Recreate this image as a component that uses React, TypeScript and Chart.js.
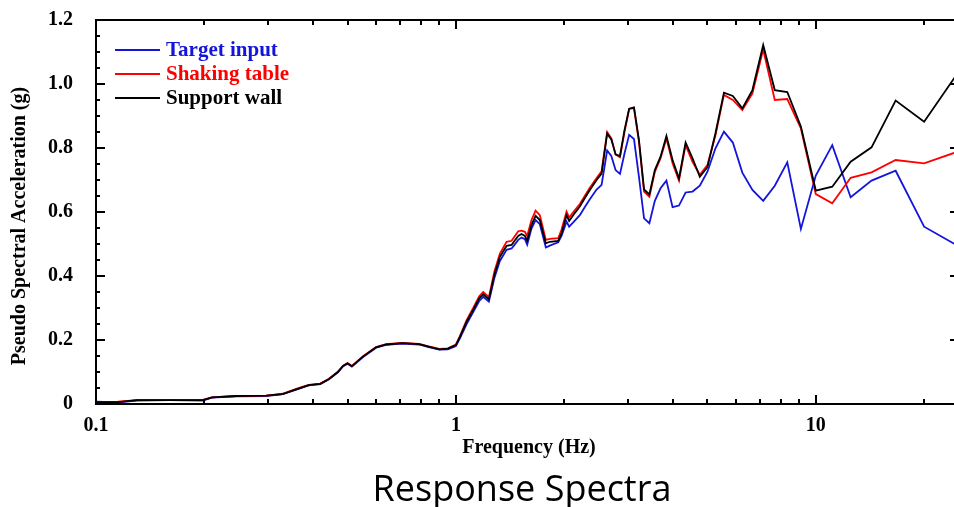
import React, { useEffect, useRef } from 'react';
import { Chart, registerables } from 'chart.js';

Chart.register(...registerables);

// ---------- data ----------
const frequency = [
  0.1, 0.115, 0.13, 0.16, 0.198, 0.21, 0.245, 0.297, 0.33, 0.36, 0.39, 0.42, 0.444, 0.47, 0.486, 0.5, 0.514, 0.552, 0.6, 0.64, 0.71, 0.79, 0.84, 0.9, 0.95, 1.0,
  1.026, 1.071, 1.117, 1.161, 1.191, 1.235, 1.28, 1.325, 1.383, 1.428, 1.449, 1.49, 1.522, 1.555, 1.578, 1.622, 1.665, 1.711, 1.778, 1.824, 1.924, 1.966, 2.03, 2.064, 2.128, 2.21, 2.28, 2.356, 2.46, 2.54,
  2.632, 2.703, 2.778, 2.857, 2.941, 3.03, 3.125, 3.226, 3.333, 3.448, 3.571, 3.704, 3.846, 4.0, 4.167, 4.348, 4.545, 4.762, 5.0, 5.263,
  5.556, 5.882, 6.25, 6.667, 7.143, 7.692, 8.333, 9.091, 10, 11.111, 12.5, 14.286, 16.667, 20, 25,
];

const targetInput = [
  0.007, 0.005, 0.011, 0.012, 0.011, 0.02, 0.024, 0.025, 0.031, 0.045, 0.058, 0.062, 0.077, 0.099, 0.118, 0.126, 0.117, 0.147, 0.176, 0.185, 0.189, 0.186, 0.178, 0.17, 0.171, 0.181,
  0.205, 0.25, 0.287, 0.322, 0.335, 0.32, 0.395, 0.447, 0.482, 0.486, 0.495, 0.513, 0.52, 0.515, 0.498, 0.548, 0.575, 0.562, 0.489, 0.495, 0.505, 0.525, 0.57, 0.554, 0.57, 0.59, 0.615, 0.64, 0.67, 0.685,
  0.792, 0.775, 0.731, 0.719, 0.783, 0.841, 0.828, 0.71, 0.58, 0.565, 0.635, 0.674, 0.698, 0.615, 0.62, 0.661, 0.664, 0.682, 0.726, 0.799,
  0.851, 0.817, 0.723, 0.669, 0.635, 0.682, 0.755, 0.547, 0.714, 0.809, 0.646, 0.698, 0.729, 0.554, 0.492,
];

const shakingTable = [
  0.005, 0.007, 0.012, 0.012, 0.013, 0.021, 0.025, 0.026, 0.032, 0.047, 0.06, 0.064, 0.079, 0.101, 0.12, 0.128, 0.119, 0.149, 0.178, 0.187, 0.191, 0.188, 0.18, 0.172, 0.174, 0.186,
  0.212, 0.262, 0.3, 0.337, 0.35, 0.334, 0.415, 0.47, 0.507, 0.51, 0.52, 0.54, 0.542, 0.538, 0.525, 0.575, 0.604, 0.59, 0.513, 0.516, 0.518, 0.545, 0.601, 0.583, 0.602, 0.625, 0.65, 0.676, 0.706, 0.727,
  0.85, 0.83, 0.78, 0.771, 0.85, 0.922, 0.925, 0.82, 0.664, 0.648, 0.725, 0.768, 0.83, 0.752, 0.698, 0.809, 0.757, 0.716, 0.747, 0.84,
  0.966, 0.95, 0.919, 0.971, 1.108, 0.95, 0.953, 0.861, 0.656, 0.627, 0.707, 0.724, 0.7625, 0.752, 0.79,
];

const supportWall = [
  0.006, 0.006, 0.012, 0.012, 0.012, 0.021, 0.025, 0.026, 0.031, 0.046, 0.059, 0.063, 0.078, 0.1, 0.119, 0.127, 0.118, 0.148, 0.177, 0.186, 0.19, 0.187, 0.179, 0.171, 0.173, 0.184,
  0.21, 0.257, 0.294, 0.33, 0.343, 0.327, 0.405, 0.46, 0.494, 0.497, 0.507, 0.525, 0.531, 0.525, 0.51, 0.559, 0.588, 0.575, 0.502, 0.507, 0.51, 0.533, 0.59, 0.572, 0.593, 0.617, 0.643, 0.669, 0.7, 0.72,
  0.845, 0.827, 0.78, 0.775, 0.856, 0.923, 0.927, 0.825, 0.671, 0.655, 0.731, 0.773, 0.8375, 0.7625, 0.705, 0.817, 0.768, 0.71, 0.74, 0.846,
  0.973, 0.9625, 0.924, 0.981, 1.122, 0.981, 0.975, 0.867, 0.667, 0.679, 0.757, 0.802, 0.948, 0.882, 1.04,
];

const seriesNames = ['Target input', 'Shaking table', 'Support wall'];
const seriesColors = ['#1414dc', '#ff0000', '#000000'];

const xMajorTicks = [0.1, 1, 10];
const xTickLabels = ['0.1', '1', '10'];
const xMinorTicks = [0.2, 0.3, 0.4, 0.5, 0.6, 0.7, 0.8, 0.9, 2, 3, 4, 5, 6, 7, 8, 9, 20];
const xMin = 0.1;
const xMax = 25;

const yMajorTicks = [0, 0.2, 0.4, 0.6, 0.8, 1.0, 1.2];
const yTickLabels = ['0', '0.2', '0.4', '0.6', '0.8', '1.0', '1.2'];
const yMinorTicks = [0.05, 0.1, 0.15, 0.25, 0.3, 0.35, 0.45, 0.5, 0.55, 0.65, 0.7, 0.75, 0.85, 0.9, 0.95, 1.05, 1.1, 1.15];

const xTitle = 'Frequency (Hz)';
const yTitle = 'Pseudo Spectral Acceleration (g)';
const caption = 'Response Spectra';

const SERIF = '"Liberation Serif", "Times New Roman", serif';

const framePlugin = {
  id: 'frameDecor',
  afterDraw(chart: any) {
    const { ctx, chartArea, scales } = chart;
    const { left, right, top, bottom } = chartArea;
    const x = scales.x;
    const y = scales.y;
    ctx.save();
    ctx.strokeStyle = '#000';
    ctx.lineWidth = 2;
    ctx.lineCap = 'butt';
    ctx.strokeRect(left, top, right - left, bottom - top);

    const seg = (x1: number, y1: number, x2: number, y2: number) => {
      ctx.beginPath();
      ctx.moveTo(x1, y1);
      ctx.lineTo(x2, y2);
      ctx.stroke();
    };
    const xTick = (v: number, len: number) => {
      const px = Math.round(x.getPixelForValue(v));
      seg(px, bottom, px, bottom - len);
      seg(px, top, px, top + len);
    };
    const yTick = (v: number, len: number) => {
      const py = Math.round(y.getPixelForValue(v));
      seg(left, py, left + len, py);
      seg(right, py, right - len, py);
    };
    xMajorTicks.forEach((v) => xTick(v, 9));
    xMinorTicks.forEach((v) => xTick(v, 5));
    yMajorTicks.forEach((v) => yTick(v, 9));
    yMinorTicks.forEach((v) => yTick(v, 4));

    // legend
    ctx.font = `bold 21px ${SERIF}`;
    ctx.textBaseline = 'middle';
    ctx.textAlign = 'left';
    seriesNames.forEach((name, i) => {
      const ly = 50 + i * 24;
      ctx.strokeStyle = seriesColors[i];
      ctx.lineWidth = 2;
      seg(115, ly, 160, ly);
      ctx.fillStyle = seriesColors[i];
      ctx.fillText(name, 166, ly + 1);
    });

    // axis titles
    ctx.fillStyle = '#000';
    ctx.font = `bold 20px ${SERIF}`;
    ctx.textAlign = 'center';
    ctx.textBaseline = 'middle';
    ctx.fillText(xTitle, 529, 448);
    ctx.save();
    ctx.translate(20, 226);
    ctx.rotate(-Math.PI / 2);
    ctx.fillText(yTitle, 0, 0);
    ctx.restore();

    // caption
    ctx.font = '36px "Open Sans", "Noto Sans", sans-serif';
    ctx.textBaseline = 'alphabetic';
    ctx.fillText(caption, 522, 501);
    ctx.restore();
  },
};

function makeSeries(values: number[]) {
  return frequency.map((f, i) => ({ x: f, y: values[i] }));
}

export default function App() {
  const canvasRef = useRef<HTMLCanvasElement | null>(null);

  useEffect(() => {
    const canvas = canvasRef.current;
    if (!canvas) return;
    const seriesValues = [targetInput, shakingTable, supportWall];
    const chart = new Chart(canvas, {
      type: 'line',
      data: {
        datasets: seriesValues.map((vals, i) => ({
          label: seriesNames[i],
          data: makeSeries(vals),
          borderColor: seriesColors[i],
          backgroundColor: seriesColors[i],
          borderWidth: 1.8,
          pointRadius: 0,
          tension: 0,
          fill: false,
          order: 2 - i,
        })),
      },
      options: {
        responsive: false,
        animation: false,
        events: [],
        layout: { padding: { top: 20, right: 11, left: 0, bottom: 0 } },
        plugins: {
          legend: { display: false },
          tooltip: { enabled: false },
          title: { display: false },
        },
        scales: {
          x: {
            type: 'logarithmic',
            min: xMin,
            max: xMax,
            grid: { display: false, drawTicks: false },
            border: { display: false },
            afterBuildTicks: (scale: any) => {
              scale.ticks = xMajorTicks.map((value) => ({ value }));
            },
            afterFit: (scale: any) => {
              scale.height = 103;
              scale.paddingLeft = 0;
              scale.paddingRight = 0;
              scale.paddingTop = 0;
              scale.paddingBottom = 0;
            },
            ticks: {
              autoSkip: false,
              maxRotation: 0,
              padding: 10,
              color: '#000',
              font: { family: SERIF, size: 20, weight: 'bold' },
              callback: (value: any) => {
                const idx = xMajorTicks.findIndex((t) => Math.abs(t - Number(value)) < 1e-9);
                return idx >= 0 ? xTickLabels[idx] : '';
              },
            },
          },
          y: {
            type: 'linear',
            min: 0,
            max: 1.2,
            grid: { display: false, drawTicks: false },
            border: { display: false },
            afterBuildTicks: (scale: any) => {
              scale.ticks = yMajorTicks.map((value) => ({ value }));
            },
            afterFit: (scale: any) => {
              scale.width = 96;
              scale.paddingLeft = 0;
              scale.paddingRight = 0;
              scale.paddingTop = 0;
              scale.paddingBottom = 0;
            },
            ticks: {
              padding: 23,
              color: '#000',
              font: { family: SERIF, size: 20, weight: 'bold' },
              callback: (value: any) => {
                const idx = yMajorTicks.findIndex((t) => Math.abs(t - Number(value)) < 1e-9);
                return idx >= 0 ? yTickLabels[idx] : '';
              },
            },
          },
        },
      } as any,
      plugins: [framePlugin],
    });
    return () => chart.destroy();
  }, []);

  return (
    <div
      style={{
        position: 'fixed',
        left: 0,
        top: 0,
        width: 954,
        height: 507,
        overflow: 'hidden',
        background: '#fff',
      }}
    >
      <canvas ref={canvasRef} width={970} height={507} style={{ display: 'block', width: 970, height: 507 }} />
    </div>
  );
}
